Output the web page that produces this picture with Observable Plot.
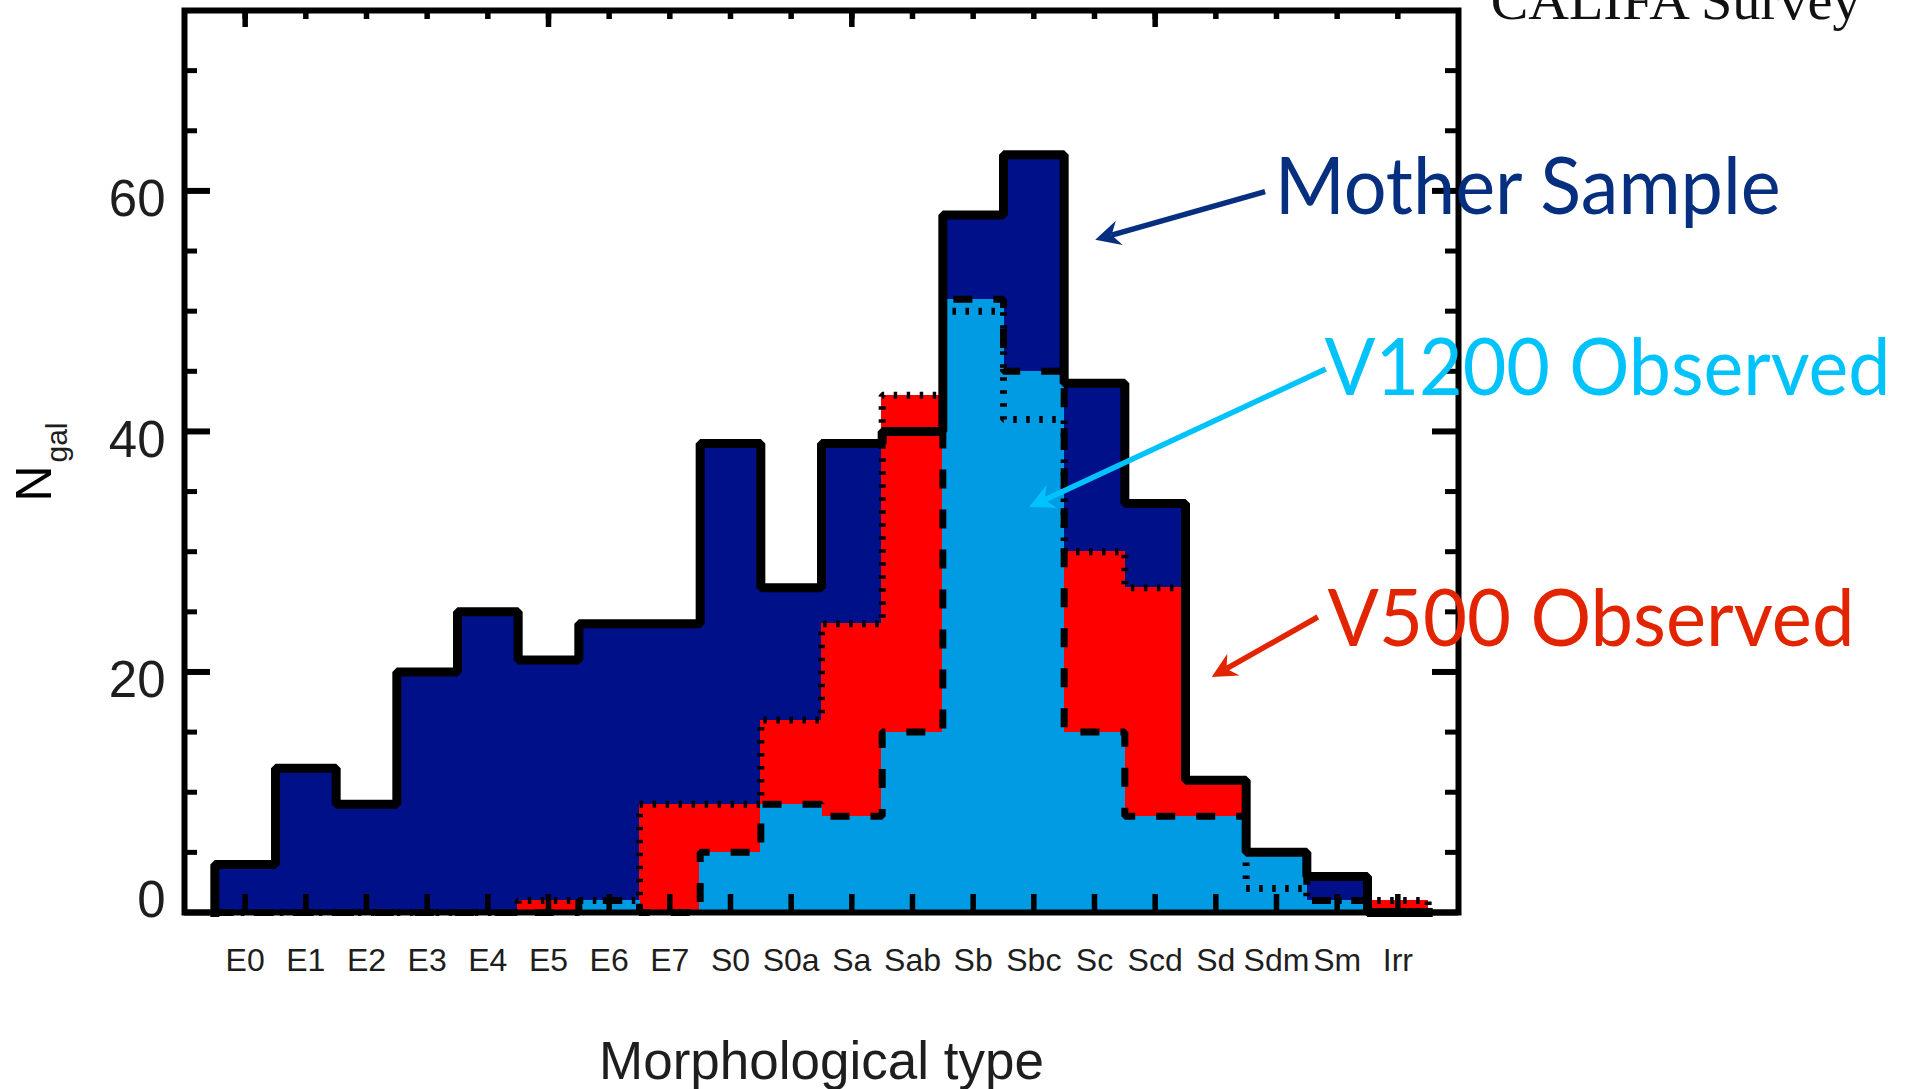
<!DOCTYPE html>
<html>
<head>
<meta charset="utf-8">
<script src="https://cdn.jsdelivr.net/npm/d3@7"></script>
<script src="https://cdn.jsdelivr.net/npm/@observablehq/plot@0.6"></script>
<style>
  html, body { margin: 0; padding: 0; background: #fff; overflow: hidden; }
</style>
</head>
<body>
<div id="chart"></div>
<script>
// Morphological types (Hubble sequence), one histogram bin each
const types = ["E0","E1","E2","E3","E4","E5","E6","E7","S0","S0a","Sa","Sab","Sb","Sbc","Sc","Scd","Sd","Sdm","Sm","Irr"];

// Number of galaxies per type
const motherSample  = [4, 12, 9, 20, 25, 21, 24, 24, 39, 27, 39, 40, 58, 63, 44, 34, 11, 5, 3, 0];
const v500Observed  = [0, 0, 0, 0, 0, 1, 1, 9, 9, 16, 24, 43, 50, 41, 30, 27, 11, 2, 1, 1];
const v1200Observed = [0, 0, 0, 0, 0, 0, 1, 0, 5, 9, 8, 15, 51, 45, 15, 8, 8, 5, 1, 0];

// Axis ticks
const yLabelTicks = [0, 20, 40, 60];
const yMinorTicks = [5, 10, 15, 25, 30, 35, 45, 50, 55, 65, 70];
const xMajorTicks = [0, 5, 10, 15];
const xTicks = d3.range(types.length);

// Colours
const NAVY = "#001088", RED = "#ff0000", SKY = "#009be2";
const INK = "#1e1e1e";

// Frame geometry
const W = 1917, H = 1089;
const mLeft = 184, mRight = 459, mTop = 10, mBottom = 177;
const frameW = W - mLeft - mRight, frameH = H - mTop - mBottom;

const bins = types.map((type, i) => ({
  i, type,
  mother: motherSample[i], v500: v500Observed[i], v1200: v1200Observed[i]
}));

// Histogram outline as a staircase through the bin edges
const steps = key => [
  {x: -0.5, y: 0},
  ...bins.flatMap(d => [{x: d.i - 0.5, y: d[key]}, {x: d.i + 0.5, y: d[key]}]),
  {x: types.length - 0.5, y: 0}
];

// Labelled call-outs with arrows (data coordinates)
const notes = [
  {text: "Mother Sample",  color: "#062f80", x: 16.97, y: 58.1, width: 506,
   arrow: {x1: 16.82, y1: 59.9, x2: 14.02, y2: 55.9}},
  {text: "V1200 Observed", color: "#00c3fc", x: 17.79, y: 43.05, width: 566,
   arrow: {x1: 17.82, y1: 45.15, x2: 12.93, y2: 33.67}},
  {text: "V500 Observed",  color: "#e22400", x: 17.84, y: 22.2, width: 527,
   arrow: {x1: 17.69, y1: 24.53, x2: 15.94, y2: 19.54}}
];

// Arrow shafts with notched, filled heads
function arrows(list) {
  return (index, scales) => {
    const g = d3.create("svg:g");
    for (const n of list) {
      const a = n.arrow;
      const x1 = scales.x(a.x1), y1 = scales.y(a.y1), x2 = scales.x(a.x2), y2 = scales.y(a.y2);
      const ang = Math.atan2(y2 - y1, x2 - x1);
      const ux = Math.cos(ang), uy = Math.sin(ang), px = -uy, py = ux;
      const L = 25, Wd = 12.5, N = 17;
      const bx = x2 - ux * L, by = y2 - uy * L;
      const nx = x2 - ux * N, ny = y2 - uy * N;
      g.append("line")
        .attr("x1", x1).attr("y1", y1).attr("x2", nx).attr("y2", ny)
        .attr("stroke", n.color).attr("stroke-width", 5.5);
      g.append("path")
        .attr("d", `M${x2},${y2}L${bx + px * Wd},${by + py * Wd}L${nx},${ny}L${bx - px * Wd},${by - py * Wd}Z`)
        .attr("fill", n.color);
    }
    return g.node();
  };
}

const binRect = (key, fill) => Plot.rectY(bins, {
  x1: d => d.i - 0.5, x2: d => d.i + 0.5, y: key, fill,
  insetLeft: -0.5, insetRight: -0.5, shapeRendering: "crispEdges"
});

const chart = Plot.plot({
  width: W,
  height: H,
  marginLeft: mLeft,
  marginRight: mRight,
  marginTop: mTop,
  marginBottom: mBottom,
  style: {fontFamily: "'Liberation Sans', Arial, Helvetica, sans-serif", color: INK, background: "#fff", overflow: "visible"},
  x: {domain: [-1, 20]},
  y: {domain: [0, 75]},
  marks: [
    // filled histograms
    binRect("mother", NAVY),
    binRect("v500", RED),
    binRect("v1200", SKY),

    // outlines: V500 dotted, V1200 dashed, mother solid
    Plot.line(steps("v500"), {x: "x", y: "y", stroke: "black", strokeWidth: 7,
      strokeDasharray: "3.5,9.5", strokeLinejoin: "miter", strokeLinecap: "butt"}),
    Plot.line(steps("v1200"), {x: "x", y: "y", stroke: "black", strokeWidth: 7,
      strokeDasharray: "19,21", strokeLinejoin: "miter", strokeLinecap: "butt"}),
    Plot.line(steps("mother"), {x: "x", y: "y", stroke: "black", strokeWidth: 9,
      strokeLinejoin: "miter", strokeLinecap: "square"}),

    // plot box
    Plot.frame({stroke: "black", strokeWidth: 6}),

    // inward ticks on all four sides
    Plot.tickY(yLabelTicks, {y: d => d, stroke: "black", strokeWidth: 6, insetRight: frameW - 26}),
    Plot.tickY(yMinorTicks, {y: d => d, stroke: "black", strokeWidth: 5, insetRight: frameW - 13}),
    Plot.tickY(yLabelTicks, {y: d => d, stroke: "black", strokeWidth: 6, insetLeft: frameW - 26}),
    Plot.tickY(yMinorTicks, {y: d => d, stroke: "black", strokeWidth: 5, insetLeft: frameW - 13}),
    Plot.tickX(xTicks, {x: d => d, stroke: "black", strokeWidth: 5.5, insetBottom: frameH - 9}),
    Plot.tickX(xMajorTicks, {x: d => d, stroke: "black", strokeWidth: 5.5, insetBottom: frameH - 17}),
    Plot.tickX(xTicks, {x: d => d, stroke: "black", strokeWidth: 5.5, insetTop: frameH - 18}),

    // tick labels
    Plot.axisX(xTicks, {anchor: "bottom", tickSize: 0, tickPadding: 36, fontSize: 32,
      tickFormat: i => types[i], label: null, fill: INK}),
    Plot.axisY(yLabelTicks.filter(v => v > 0), {anchor: "left", tickSize: 0, tickPadding: 19,
      fontSize: 51, dy: 9, label: null, fill: INK}),
    Plot.axisY(yLabelTicks.filter(v => v === 0), {anchor: "left", tickSize: 0, tickPadding: 19,
      fontSize: 51, dy: -12, label: null, fill: INK}),

    // axis titles
    Plot.text(["Morphological type"], {text: d => d, frameAnchor: "bottom", lineAnchor: "bottom",
      dy: 166, fontSize: 53, fill: INK}),
    Plot.text(["N"], {text: d => d, frameAnchor: "left", textAnchor: "middle", lineAnchor: "middle",
      dx: -150, dy: 22, rotate: -90, fontSize: 50, fill: "black"}),
    Plot.text(["gal"], {text: d => d, frameAnchor: "left", textAnchor: "middle", lineAnchor: "middle",
      dx: -127, dy: -19, rotate: -90, fontSize: 30, fill: INK}),

    // survey name, clipped by the top of the page
    Plot.text(["CALIFA Survey"], {text: d => d, x: 20.53, y: 74.3, textAnchor: "start",
      lineAnchor: "bottom", fontSize: 55, fontFamily: "'Liberation Serif', 'Times New Roman', serif",
      fill: "#111"}),

    // call-outs
    ...notes.map(n => Plot.text([n], {x: "x", y: "y", text: "text", textAnchor: "start",
      lineAnchor: "bottom", fontSize: 80, fontFamily: "Lato, 'Open Sans', sans-serif", fill: n.color})),
    arrows(notes)
  ]
});

// Fit the call-out lettering to its measured run length
const fit = new Map(notes.map(n => [n.text, n.width]));
fit.set("CALIFA Survey", 370);
d3.select(chart).selectAll("text").each(function () {
  const w = fit.get(this.textContent);
  if (w) {
    this.setAttribute("textLength", w);
    this.setAttribute("lengthAdjust", "spacingAndGlyphs");
  }
});

document.getElementById("chart").append(chart);
</script>
</body>
</html>
